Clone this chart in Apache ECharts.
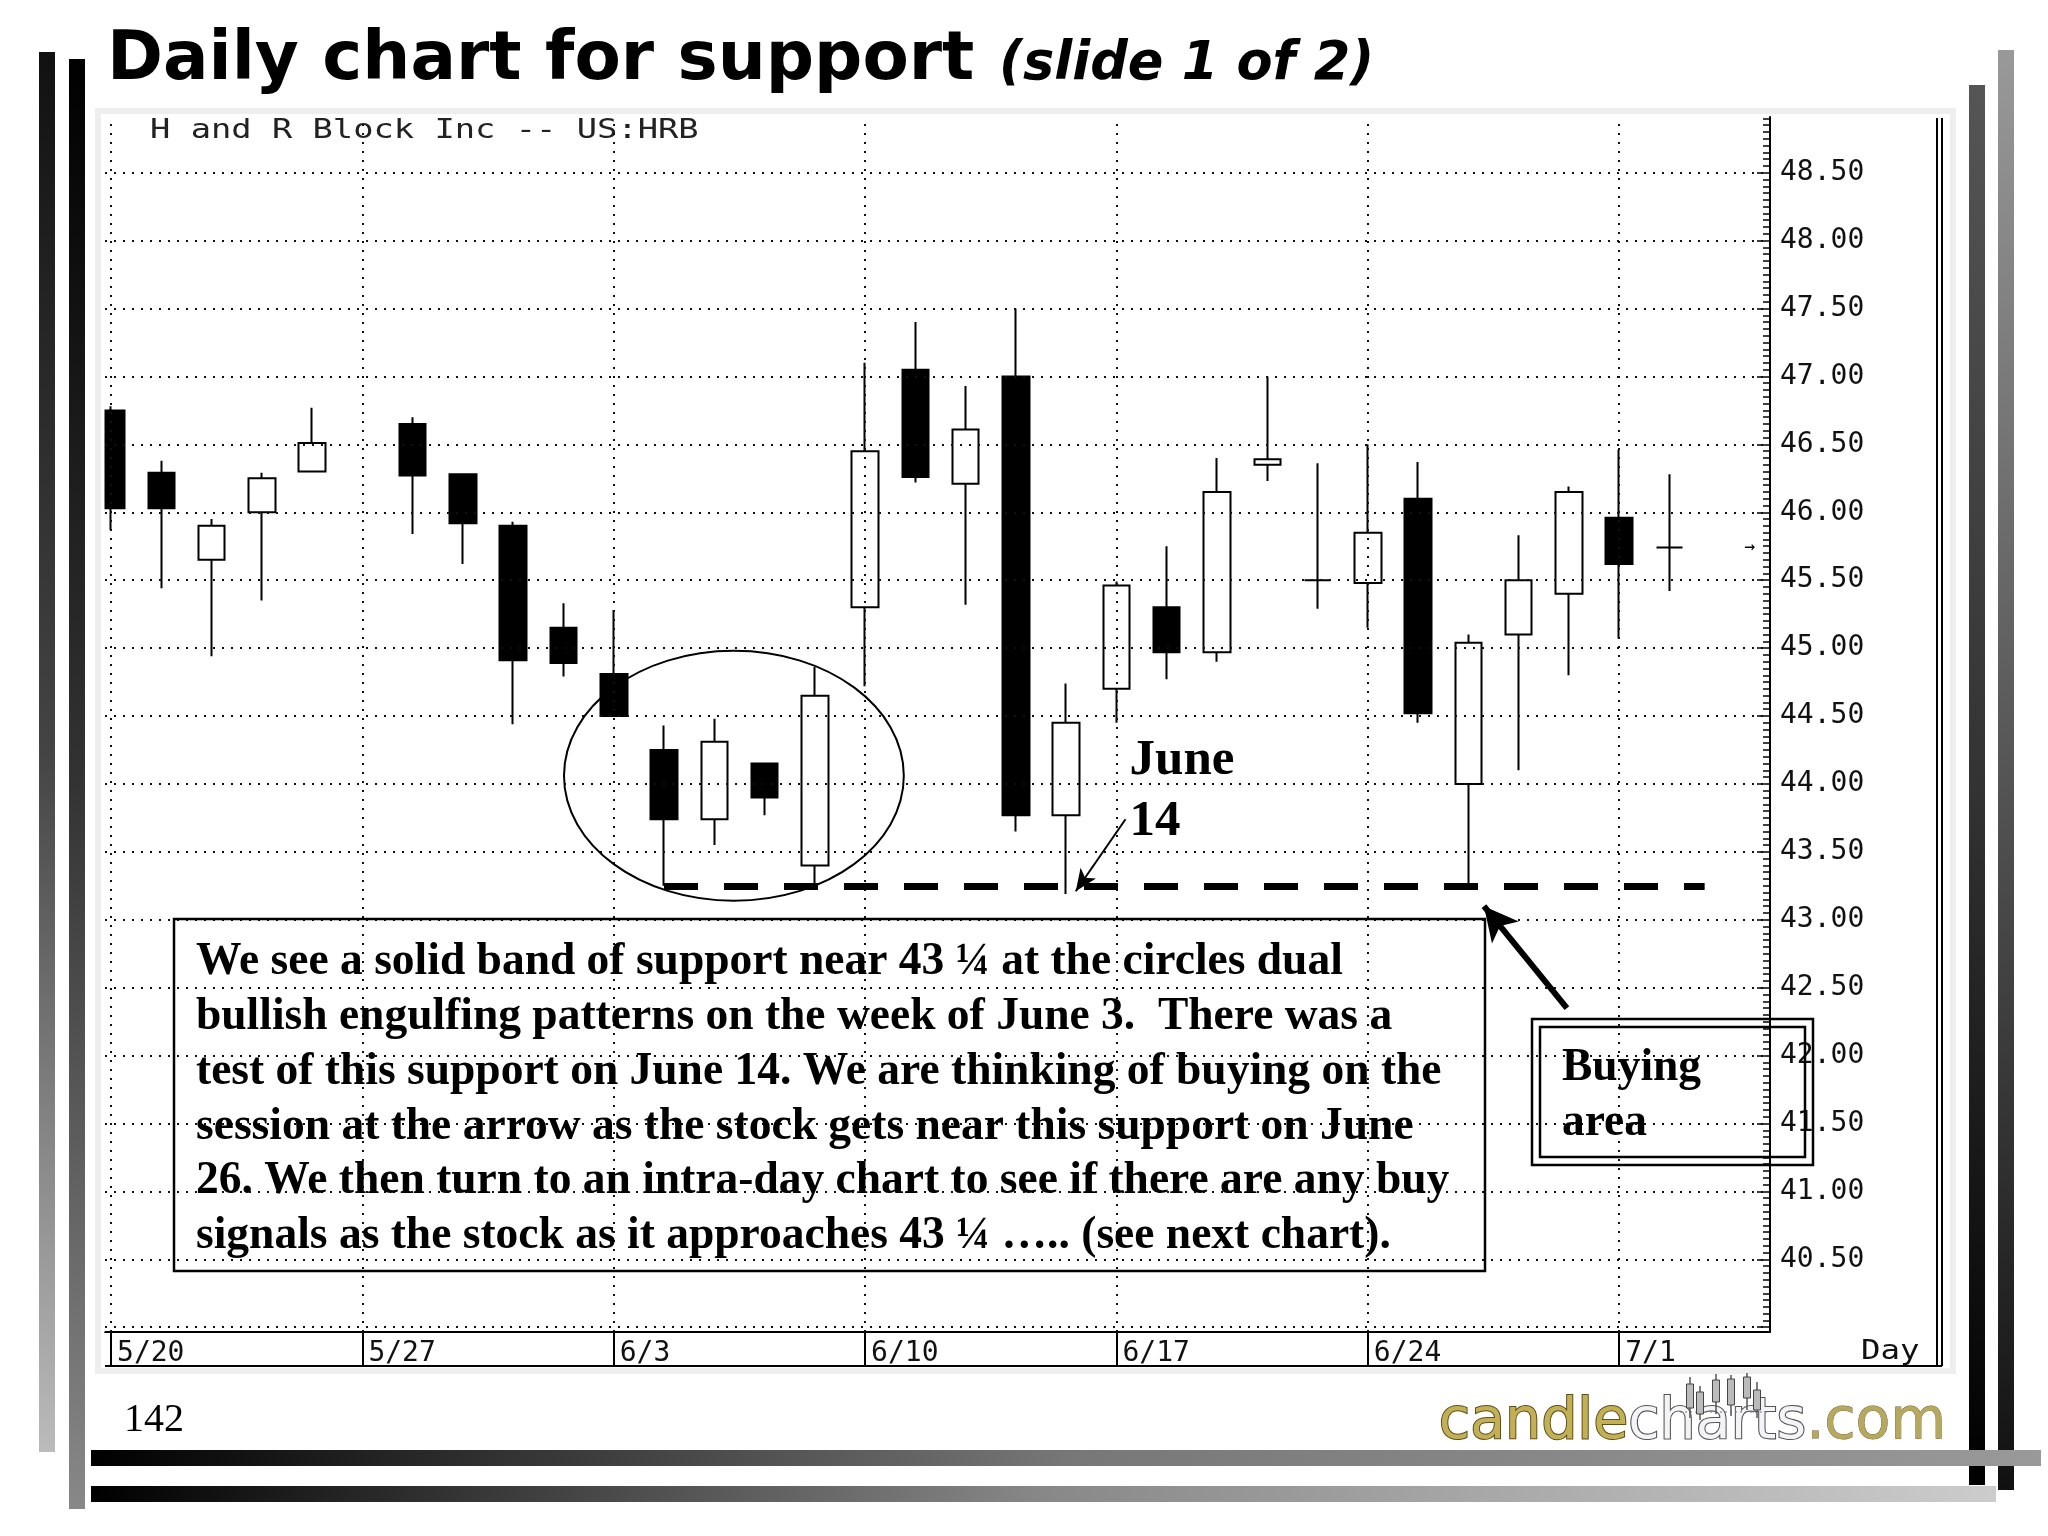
<!DOCTYPE html>
<html><head><meta charset="utf-8">
<script src="https://cdn.jsdelivr.net/npm/echarts@6/dist/echarts.min.js"></script>
<style>html,body{margin:0;padding:0;background:#fff}#c{width:2048px;height:1536px}</style>
</head><body><div id="c"></div>
<script>
// ---- data ----
const weekLabels = ['5/20','5/27','6/3','6/10','6/17','6/24','7/1'];
const weekStarts = [0,5,10,15,20,25,30];           // trading-day index of each week start
const dayIdx = [0,1,2,3,4,6,7,8,9,10,11,12,13,14,15,16,17,18,19,20,21,22,23,24,25,26,27,28,29,30,31];
const opens  = [46.75,46.29,45.65,46.00,46.30,46.65,46.28,45.90,45.15,44.81,44.25,43.74,44.15,43.40,45.30,47.05,46.21,47.00,43.77,44.70,45.30,44.97,46.35,45.50,45.48,46.10,44.00,45.10,45.40,45.96,45.74];
const closes = [46.03,46.03,45.90,46.25,46.51,46.27,45.92,44.91,44.89,44.50,43.74,44.31,43.90,44.65,46.45,46.26,46.61,43.77,44.45,45.46,44.97,46.15,46.39,45.50,45.85,44.52,45.04,45.50,46.15,45.62,45.74];
const lows   = [45.87,45.44,44.94,45.35,46.30,45.84,45.62,44.44,44.79,44.50,43.25,43.55,43.77,43.25,44.72,46.22,45.32,43.65,43.19,44.45,44.77,44.90,46.23,45.29,45.15,44.45,43.26,44.10,44.80,45.07,45.42];
const highs  = [46.78,46.38,45.95,46.29,46.77,46.70,46.28,45.93,45.33,45.28,44.43,44.48,44.15,44.86,47.10,47.40,46.93,47.50,44.74,45.49,45.75,46.40,47.00,46.36,46.50,46.37,45.10,45.83,46.19,46.46,46.28];
const priceLabels = [40.5,41,41.5,42,42.5,43,43.5,44,44.5,45,45.5,46,46.5,47,47.5,48,48.5];
const gridPrices  = [40,40.5,41,41.5,42,42.5,43,43.5,44,44.5,45,45.5,46,46.5,47,47.5,48,48.5];
const supportLevel = 43.25;
const supportFrom = 11, supportTo = 31.7;
const june14Arrow = [[20.18, 43.74], [19.19, 43.21]];
const buyArrow    = [[28.96, 42.35], [27.31, 43.10]];
const circle = {cx: 12.39, cy: 44.06, rx: 3.38, ry: 0.92};
const textLines = [
  'We see a solid band of support near 43 \u00bc at the circles dual',
  'bullish engulfing patterns on the week of June 3.  There was a',
  'test of this support on June 14. We are thinking of buying on the',
  'session at the arrow as the stock gets near this support on June',
  '26. We then turn to an intra-day chart to see if there are any buy',
  'signals as the stock as it approaches 43 \u00bc \u2026.. (see next chart).'
];

const minorTicks = [];
for (let k = 800; k <= 978; k++) minorTicks.push(k / 20);

const candleData = dayIdx.map((d, i) => [d, opens[i], closes[i], lows[i], highs[i]]);

const MONO = '"DejaVu Sans Mono"';
const SERIF = '"Liberation Serif"';

const chart = echarts.init(document.getElementById('c'));
const yBase = {type:'value', position:'right', min:39.965, max:48.91, splitLine:{show:false}};
chart.setOption({
  animation:false,
  backgroundColor:'#fff',
  grid:{left:105, right:278, top:117, bottom:204},
  xAxis:{type:'value', min:-0.12, max:33,
    axisLine:{show:true, onZero:false, lineStyle:{color:'#000', width:2}},
    axisTick:{show:true, customValues:weekStarts, length:34, inside:false, lineStyle:{color:'#000', width:2}},
    axisLabel:{show:true, customValues:weekStarts, formatter:v => weekLabels[weekStarts.indexOf(Math.round(v))] || '',
      align:'left', padding:[0,0,0,6], margin:8, fontFamily:MONO, fontSize:28, color:'#111'},
    splitLine:{show:false}},
  yAxis:[
    Object.assign({}, yBase, {
      axisLine:{show:true, onZero:false, lineStyle:{color:'#000', width:2}},
      axisTick:{show:true, inside:true, customValues:minorTicks, length:7, lineStyle:{color:'#000', width:1.5}},
      axisLabel:{show:true, customValues:priceLabels, formatter:v => v.toFixed(2), margin:10, fontFamily:MONO, fontSize:28, color:'#111'}}),
    Object.assign({}, yBase, {
      axisLine:{show:false, onZero:false},
      axisTick:{show:true, inside:true, customValues:gridPrices, length:13, lineStyle:{color:'#000', width:1.5}},
      axisLabel:{show:false}})
  ],
  series:[
    {type:'line', data:[], z:1, silent:true,
      markLine:{silent:true, symbol:'none', label:{show:false}, animation:false,
        lineStyle:{type:[2,7], color:'#111', width:2},
        data:[...gridPrices.map(p => ({yAxis:p})), ...weekStarts.map(d => ({xAxis:d}))]}},
    {type:'candlestick', z:3, barWidth:27, data:candleData,
      encode:{x:0, y:[1,2,3,4]},
      itemStyle:{color:'#fff', color0:'#000', borderColor:'#000', borderColor0:'#000', borderWidth:2},
      markLine:{silent:true, symbol:'none', label:{show:false}, animation:false,
        lineStyle:{type:[34,26], color:'#000', width:7},
        data:[[{coord:[supportFrom, supportLevel]}, {coord:[supportTo, supportLevel]}]]}},
    {type:'line', data:[], z:5, silent:true,
      markLine:{silent:true, symbol:['none','arrow'], symbolSize:[14,22], label:{show:false}, animation:false,
        lineStyle:{type:'solid', color:'#000', width:2},
        data:[[{coord:june14Arrow[0]}, {coord:june14Arrow[1]}]]}},
    {type:'line', data:[], z:5, silent:true,
      markLine:{silent:true, symbol:['none','arrow'], symbolSize:[26,34], label:{show:false}, animation:false,
        lineStyle:{type:'solid', color:'#000', width:6},
        data:[[{coord:buyArrow[0]}, {coord:buyArrow[1]}]]}}
  ]
});

const px = (x, y) => chart.convertToPixel({xAxisIndex:0, yAxisIndex:0}, [x, y]);
const c0 = px(circle.cx, circle.cy);
const cR = px(circle.cx + circle.rx, circle.cy + circle.ry);
const junePos = px(20.26, 43.945);
const lastPos = px(32.6, closes[closes.length - 1]);

const LG = (x1,y1,x2,y2,stops) => new echarts.graphic.LinearGradient(x1,y1,x2,y2, stops.map((c,i)=>({offset:i/(stops.length-1), color:c})));

// small candle icon in the logo (decoration)
const logoCandles = [[1690,1377,1384,1408,1418],[1700,1386,1392,1414,1420],[1716,1374,1380,1402,1414],[1731,1375,1379,1405,1416],[1747,1373,1377,1398,1410],[1757,1382,1390,1410,1418]];
const logoEls = [];
logoCandles.forEach(([x,t,b1,b2,bt]) => {
  logoEls.push({type:'line', shape:{x1:x, y1:t, x2:x, y2:bt}, style:{stroke:'#555', lineWidth:1.5}, z:30});
  logoEls.push({type:'rect', shape:{x:x-3.5, y:b1, width:7, height:b2-b1}, style:{fill:'#bbb', stroke:'#444', lineWidth:1}, z:31});
});
logoEls.push({type:'line', shape:{x1:1680, y1:1412, x2:1768, y2:1412}, style:{stroke:'#777', lineWidth:1, lineDash:[2,3]}, z:29});

chart.setOption({graphic:[
  // decorative slide bars
  {type:'rect', shape:{x:39, y:52, width:16, height:1400}, style:{fill:LG(0,0,0,1,['#111','#444','#bbb'])}},
  {type:'rect', shape:{x:69, y:59, width:16, height:1450}, style:{fill:LG(0,0,0,1,['#000','#333','#888'])}},
  {type:'rect', shape:{x:1969, y:85, width:16, height:1400}, style:{fill:LG(0,0,0,1,['#555','#333','#000'])}},
  {type:'rect', shape:{x:1998, y:50, width:16, height:1440}, style:{fill:LG(0,0,0,1,['#999','#555','#111'])}},
  {type:'rect', shape:{x:91, y:1450, width:1950, height:16}, style:{fill:LG(0,0,1,0,['#000','#777','#999'])}},
  {type:'rect', shape:{x:91, y:1486, width:1905, height:16}, style:{fill:LG(0,0,1,0,['#000','#888','#ccc'])}},
  // cover the part of the first candle left of the plot area
  {type:'rect', shape:{x:88, y:118, width:16.5, height:1214}, style:{fill:'#fff'}, z:20},
  // chart panel
  {type:'rect', shape:{x:98, y:111, width:1855, height:1260}, style:{fill:null, stroke:'#eeeeee', lineWidth:6}, z:21},
  {type:'line', shape:{x1:1937, y1:118, x2:1937, y2:1366}, style:{stroke:'#000', lineWidth:2}},
  {type:'line', shape:{x1:1942, y1:118, x2:1942, y2:1366}, style:{stroke:'#000', lineWidth:2}},
  {type:'line', shape:{x1:105, y1:1366, x2:1942, y2:1366}, style:{stroke:'#000', lineWidth:2}},
  {type:'text', x:1861, y:1352, scaleX:1.2, style:{x:0, y:0, text:'Day', font:'27px ' + MONO, fill:'#111', textVerticalAlign:'middle'}},
  // title
  {type:'text', x:107, y:61, style:{text:'Daily chart for support', font:'bold 67.5px "DejaVu Sans"', fill:'#000', textVerticalAlign:'middle'}},
  {type:'text', x:999, y:65, style:{text:'(slide 1 of 2)', font:'italic bold 52.5px "DejaVu Sans"', fill:'#000', textVerticalAlign:'middle'}},
  {type:'text', x:150, y:131, scaleX:1.25, style:{x:0, y:0, text:'H and R Block Inc -- US:HRB', font:'27px ' + MONO, fill:'#222', textVerticalAlign:'middle'}},
  // circle
  {type:'ellipse', shape:{cx:c0[0], cy:c0[1], rx:cR[0]-c0[0], ry:c0[1]-cR[1]}, style:{fill:null, stroke:'#000', lineWidth:2}, z:10},
  // June 14 label
  {type:'text', x:junePos[0], y:junePos[1], style:{text:'June\n14', font:'bold 51px ' + SERIF, lineHeight:61, fill:'#000', textVerticalAlign:'middle'}, z:10},
  // text box
  {type:'rect', shape:{x:174, y:919, width:1311, height:352}, style:{fill:null, stroke:'#000', lineWidth:2.5}, z:10},
  {type:'text', x:196, y:935, style:{text:textLines.join('\n'), font:'bold 45.5px ' + SERIF, lineHeight:54.8, fill:'#000', textVerticalAlign:'top'}, z:10},
  // buying area box
  {type:'rect', shape:{x:1532, y:1019, width:281, height:146}, style:{fill:null, stroke:'#000', lineWidth:2.5}, z:10},
  {type:'rect', shape:{x:1540, y:1027, width:265, height:130}, style:{fill:null, stroke:'#000', lineWidth:2.5}, z:10},
  {type:'text', x:1562, y:1041, style:{text:'Buying\narea', font:'bold 45.5px ' + SERIF, lineHeight:55, fill:'#000', textVerticalAlign:'top'}, z:10},
  // last price marker
  {type:'text', x:lastPos[0], y:lastPos[1], style:{text:'\u2192', font:'18px ' + MONO, fill:'#000', textAlign:'center', textVerticalAlign:'middle'}},
  // page number & logo
  {type:'text', x:124, y:1420, style:{text:'142', font:'40px ' + SERIF, fill:'#000', textVerticalAlign:'middle'}},
  {type:'text', x:1946, y:1452, z:28, style:{text:'{a|candle}{b|charts}{c|.com}', textAlign:'right', textVerticalAlign:'bottom',
    rich:{a:{font:'57px "DejaVu Sans"', fill:'#c4b054', stroke:'#5d5020', lineWidth:2},
          b:{font:'57px "DejaVu Sans"', fill:'#f4f4f8', stroke:'#555', lineWidth:2.2},
          c:{font:'57px "DejaVu Sans"', fill:'#b7a860', stroke:'#6b6030', lineWidth:0.8}}}},
  ...logoEls
]});
</script>
</body></html>
